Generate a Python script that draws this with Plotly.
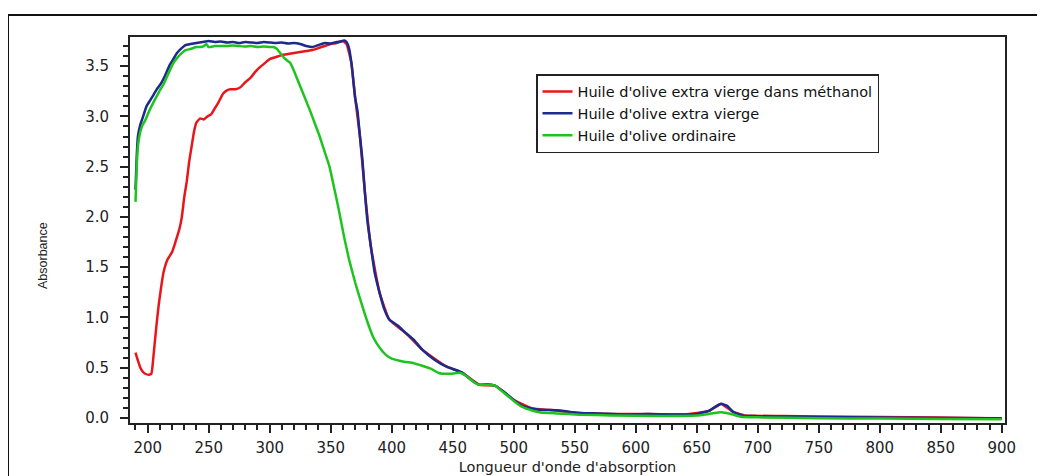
import plotly.graph_objects as go

# ---- data ----
series_names = [
    "Huile d'olive extra vierge dans méthanol",
    "Huile d'olive extra vierge",
    "Huile d'olive ordinaire",
]

red_x = [190, 192, 194, 196, 198, 201, 203, 205, 207, 209, 211, 213, 216, 220, 222, 224, 226,
         228, 230, 232, 234, 236, 238, 240, 243, 246, 249, 252, 255, 258, 262, 265, 268, 272,
         276, 280, 284, 288, 292, 296, 300, 305, 310, 315, 320, 325, 330, 335, 340, 345, 350,
         355, 360, 363, 367, 370, 374, 378, 383, 390, 398, 412, 425, 445, 458, 472, 485, 500,
         515, 530, 554, 580, 610, 640, 660, 670, 680, 690, 720, 750, 800, 850, 900]
red_y = [0.65, 0.57, 0.50, 0.46, 0.44, 0.43, 0.44, 0.65, 0.90, 1.12, 1.30, 1.45, 1.57, 1.65,
         1.72, 1.80, 1.88, 2.00, 2.20, 2.35, 2.55, 2.70, 2.85, 2.94, 2.98, 2.97, 3.00, 3.02,
         3.08, 3.14, 3.23, 3.26, 3.27, 3.27, 3.29, 3.34, 3.38, 3.44, 3.49, 3.53, 3.57, 3.59,
         3.61, 3.62, 3.63, 3.64, 3.65, 3.66, 3.68, 3.70, 3.72, 3.73, 3.75, 3.72, 3.53, 3.19,
         2.80, 2.25, 1.70, 1.25, 0.98, 0.84, 0.68, 0.51, 0.45, 0.33, 0.32, 0.18, 0.095, 0.08,
         0.05, 0.04, 0.04, 0.035, 0.07, 0.14, 0.06, 0.025, 0.02, 0.015, 0.01, 0.005, -0.005]

blue_x = [190, 191, 192, 194, 196, 199, 202, 205, 208, 211, 214, 218, 221, 224, 227, 231, 235,
          240, 245, 250, 255, 260, 265, 270, 275, 280, 285, 290, 295, 300, 305, 310, 315, 320,
          325, 330, 335, 340, 345, 350, 355, 358, 361, 363, 365, 367, 370, 372, 374, 376, 378,
          380, 383, 386, 390, 394, 398, 405, 412, 418, 425, 435, 445, 452, 458, 465, 472, 478,
          485, 492, 500, 507, 515, 522, 530, 538, 546, 554, 570, 590, 610, 630, 650, 660, 665,
          670, 675, 680, 688, 700, 750, 800, 850, 900]
blue_y = [2.27, 2.60, 2.80, 2.92, 2.99, 3.10, 3.16, 3.22, 3.28, 3.33, 3.40, 3.51, 3.57, 3.63,
          3.67, 3.71, 3.72, 3.73, 3.74, 3.75, 3.74, 3.745, 3.735, 3.74, 3.73, 3.74, 3.735,
          3.73, 3.74, 3.735, 3.73, 3.735, 3.725, 3.73, 3.72, 3.70, 3.69, 3.71, 3.73, 3.725,
          3.74, 3.745, 3.755, 3.74, 3.68, 3.53, 3.19, 3.05, 2.80, 2.57, 2.25, 1.97, 1.70,
          1.45, 1.25, 1.08, 0.98, 0.92, 0.84, 0.78, 0.68, 0.58, 0.51, 0.48, 0.45, 0.38, 0.33,
          0.335, 0.32, 0.26, 0.18, 0.12, 0.095, 0.08, 0.08, 0.075, 0.06, 0.05, 0.045, 0.035,
          0.04, 0.035, 0.04, 0.07, 0.11, 0.142, 0.12, 0.06, 0.023, 0.018, 0.01, 0.005, 0.0,
          -0.002]

green_x = [190, 191, 192, 194, 196, 198, 200, 203, 206, 210, 213, 216, 219, 221, 224, 227, 231,
           235, 240, 243, 246, 248, 250, 255, 260, 265, 270, 275, 280, 285, 290, 295, 300, 303,
           306, 308, 312, 317, 321, 325, 329, 333, 337, 341, 345, 349, 353, 357, 361, 365, 370,
           375, 380, 385, 390, 395, 400, 410, 418, 425, 432, 438, 442, 448, 456, 462, 468, 472,
           478, 485, 492, 500, 507, 515, 522, 535, 554, 580, 620, 650, 660, 670, 678, 686, 700,
           750, 800, 850, 900]
green_y = [2.15, 2.50, 2.70, 2.85, 2.92, 2.96, 3.02, 3.10, 3.17, 3.26, 3.32, 3.40, 3.48, 3.53,
           3.58, 3.62, 3.66, 3.67, 3.69, 3.69, 3.70, 3.72, 3.69, 3.70, 3.70, 3.70, 3.705, 3.70,
           3.695, 3.70, 3.69, 3.695, 3.69, 3.69, 3.67, 3.64, 3.58, 3.53, 3.42, 3.30, 3.18, 3.06,
           2.93, 2.80, 2.65, 2.50, 2.28, 2.05, 1.80, 1.58, 1.35, 1.15, 0.96, 0.80, 0.70, 0.63,
           0.59, 0.56, 0.545, 0.52, 0.49, 0.45, 0.44, 0.44, 0.45, 0.41, 0.35, 0.33, 0.33, 0.32,
           0.25, 0.17, 0.11, 0.075, 0.055, 0.045, 0.033, 0.025, 0.02, 0.025, 0.04, 0.056, 0.04,
           0.012, 0.006, -0.002, -0.006, -0.01, -0.012]

x_ticks = [200, 250, 300, 350, 400, 450, 500, 550, 600, 650, 700, 750, 800, 850, 900]
y_ticks = [0.0, 0.5, 1.0, 1.5, 2.0, 2.5, 3.0, 3.5]

colors = ["#e8161b", "#1b2a8c", "#1ec41e"]

# page has an 8px body margin: figure coordinates = screen coordinates - 8
OFF = 8
W, H = 1045 - OFF, 476 - OFF
L, R, T, B = 130 - OFF, 40, 37 - OFF, 53
pw = W - L - R
ph = H - T - B


def px(sx):
    return (sx - OFF - L) / pw


def py(sy):
    return (H - B - (sy - OFF)) / ph


fig = go.Figure()
for name, xs, ys, c in zip(series_names, [red_x, blue_x, green_x], [red_y, blue_y, green_y], colors):
    fig.add_trace(go.Scatter(x=xs, y=ys, mode="lines", name=name,
                             line=dict(color=c, width=2.5, shape="spline", smoothing=0.4)))

tickfont = dict(family="DejaVu Sans, Verdana, sans-serif", size=15, color="#222")

fig.update_layout(
    width=W, height=H,
    margin=dict(l=L, r=R, t=T, b=B),
    paper_bgcolor="white", plot_bgcolor="white",
    font=dict(family="DejaVu Sans, Verdana, sans-serif", size=14, color="#222"),
    showlegend=True,
    legend=dict(
        x=px(536), y=py(74), xanchor="left", yanchor="top",
        bgcolor="white", bordercolor="#222", borderwidth=1.5,
        font=dict(family="DejaVu Sans, Verdana, sans-serif", size=14.5, color="#111"),
        tracegroupgap=0,
    ),
    xaxis=dict(
        range=[185.5, 902.7], tickvals=x_ticks, ticks="outside", ticklen=8, tickwidth=2,
        tickcolor="#222", showline=True, linecolor="#222", linewidth=2, mirror=True,
        showgrid=False, zeroline=False, tickfont=tickfont, ticklabelstandoff=2,
        automargin=False,
        minor=dict(ticks="outside", dtick=10, tick0=0, ticklen=5, tickwidth=1.5, tickcolor="#222", showgrid=False),
        title=dict(text="Longueur d'onde d'absorption",
                   font=dict(family="DejaVu Sans, Verdana, sans-serif", size=14.5), standoff=6),
    ),
    yaxis=dict(
        range=[-0.05, 3.79], tickvals=y_ticks, tickformat=".1f", ticks="outside", ticklen=8,
        tickwidth=2, tickcolor="#222", showline=True, linecolor="#222", linewidth=2, mirror=True,
        showgrid=False, zeroline=False, tickfont=tickfont, ticklabelstandoff=8,
        automargin=False,
        minor=dict(ticks="outside", dtick=0.1, tick0=0, ticklen=5, tickwidth=1.5, tickcolor="#222", showgrid=False),
    ),
    annotations=[dict(
        text="Absorbance", textangle=-90, xref="paper", yref="paper",
        x=px(43), y=py(256), xanchor="center", yanchor="middle", showarrow=False,
        font=dict(family="Liberation Sans Narrow, Arial Narrow, sans-serif", size=12.5, color="#222"),
    )],
    shapes=[
        dict(type="line", xref="paper", yref="paper", x0=px(8), x1=px(1045),
             y0=py(15), y1=py(15), line=dict(color="#111", width=2)),
        dict(type="line", xref="paper", yref="paper", x0=px(8), x1=px(8),
             y0=py(15), y1=py(476), line=dict(color="#111", width=2)),
    ],
)

fig.write_html("out.html")
